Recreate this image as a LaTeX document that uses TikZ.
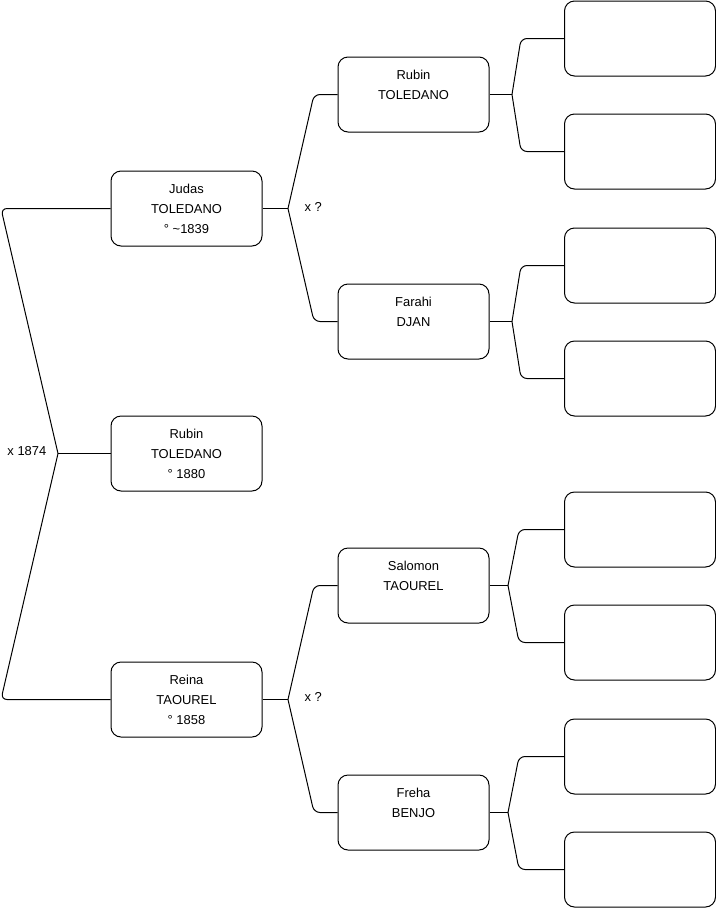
\documentclass[tikz,border=0pt]{standalone}
\usepackage{fontspec}
\setmainfont{Liberation Sans}
\usetikzlibrary{positioning}
\tikzset{
  every picture/.style={line width=0.75pt},
  person/.style={draw, fill=white, rounded corners=7.5pt, align=center, inner sep=0pt,
    minimum width=113.25pt, minimum height=56.25pt, font=\fontsize{9.7}{15}\selectfont},
  link/.style={draw, line width=0.75pt},
  fork/.style={link, rounded corners=4.5pt},
  union/.style={anchor=west, inner sep=0pt, font=\fontsize{9.7}{11}\selectfont},
}

\begin{document}
\begin{tikzpicture}[x=0.75pt, y=-0.75pt]
  \useasboundingbox (0,0) rectangle (716,908);
  % child and parents
  \node[person] (rubin) at (186.5,453.5) {Rubin\\TOLEDANO\\° 1880};
  \node[person] (judas) at (186.5,208.5) {Judas\\TOLEDANO\\° \textasciitilde1839};
  \node[person] (reina) at (186.5,699.5) {Reina\\TAOUREL\\° 1858};
  \coordinate (u0) at (58,453.5);
  \draw[link] (rubin.west) -- (u0);
  \draw[fork] (u0) -- (1,208.5) -- (judas.west);
  \draw[fork] (u0) -- (1,699.5) -- (reina.west);
  \node[union] (m0) at (7,451) {x 1874};
  % grandparents
  \node[person] (rubint) at (413.5,94.5) {Rubin\\TOLEDANO\\\mbox{}};
  \node[person] (farahi) at (413.5,321.5) {Farahi\\DJAN\\\mbox{}};
  \node[person] (salomon) at (413.5,585.5) {Salomon\\TAOUREL\\\mbox{}};
  \node[person] (freha) at (413.5,812.5) {Freha\\BENJO\\\mbox{}};
  \coordinate (u1) at (288,208.5);
  \draw[link] (judas.east) -- (u1);
  \draw[fork] (u1) -- (314,94.5) -- (rubint.west);
  \draw[fork] (u1) -- (314,321.5) -- (farahi.west);
  \node[union] (m1) at (304,207) {x ?};
  \coordinate (u2) at (288,699.5);
  \draw[link] (reina.east) -- (u2);
  \draw[fork] (u2) -- (314,585.5) -- (salomon.west);
  \draw[fork] (u2) -- (314,812.5) -- (freha.west);
  \node[union] (m2) at (304,697) {x ?};
  % great-grandparents
  \foreach \name/\y in {a1/38.5, a2/151.5, b1/265.5, b2/378.5, c1/529.5, c2/642.5, d1/756.5, d2/869.5}
    \node[person] (\name) at (640,\y) {};
  \coordinate (ua) at (512,94.5);
  \draw[link] (rubint.east) -- (ua);
  \draw[fork] (ua) -- (521,38.5) -- (a1.west);
  \draw[fork] (ua) -- (521,151.5) -- (a2.west);
  \coordinate (ub) at (512,321.5);
  \draw[link] (farahi.east) -- (ub);
  \draw[fork] (ub) -- (521,265.5) -- (b1.west);
  \draw[fork] (ub) -- (521,378.5) -- (b2.west);
  \coordinate (uc) at (508,585.5);
  \draw[link] (salomon.east) -- (uc);
  \draw[fork] (uc) -- (519,529.5) -- (c1.west);
  \draw[fork] (uc) -- (519,642.5) -- (c2.west);
  \coordinate (ud) at (508,812.5);
  \draw[link] (freha.east) -- (ud);
  \draw[fork] (ud) -- (519,756.5) -- (d1.west);
  \draw[fork] (ud) -- (519,869.5) -- (d2.west);
\end{tikzpicture}
\end{document}
